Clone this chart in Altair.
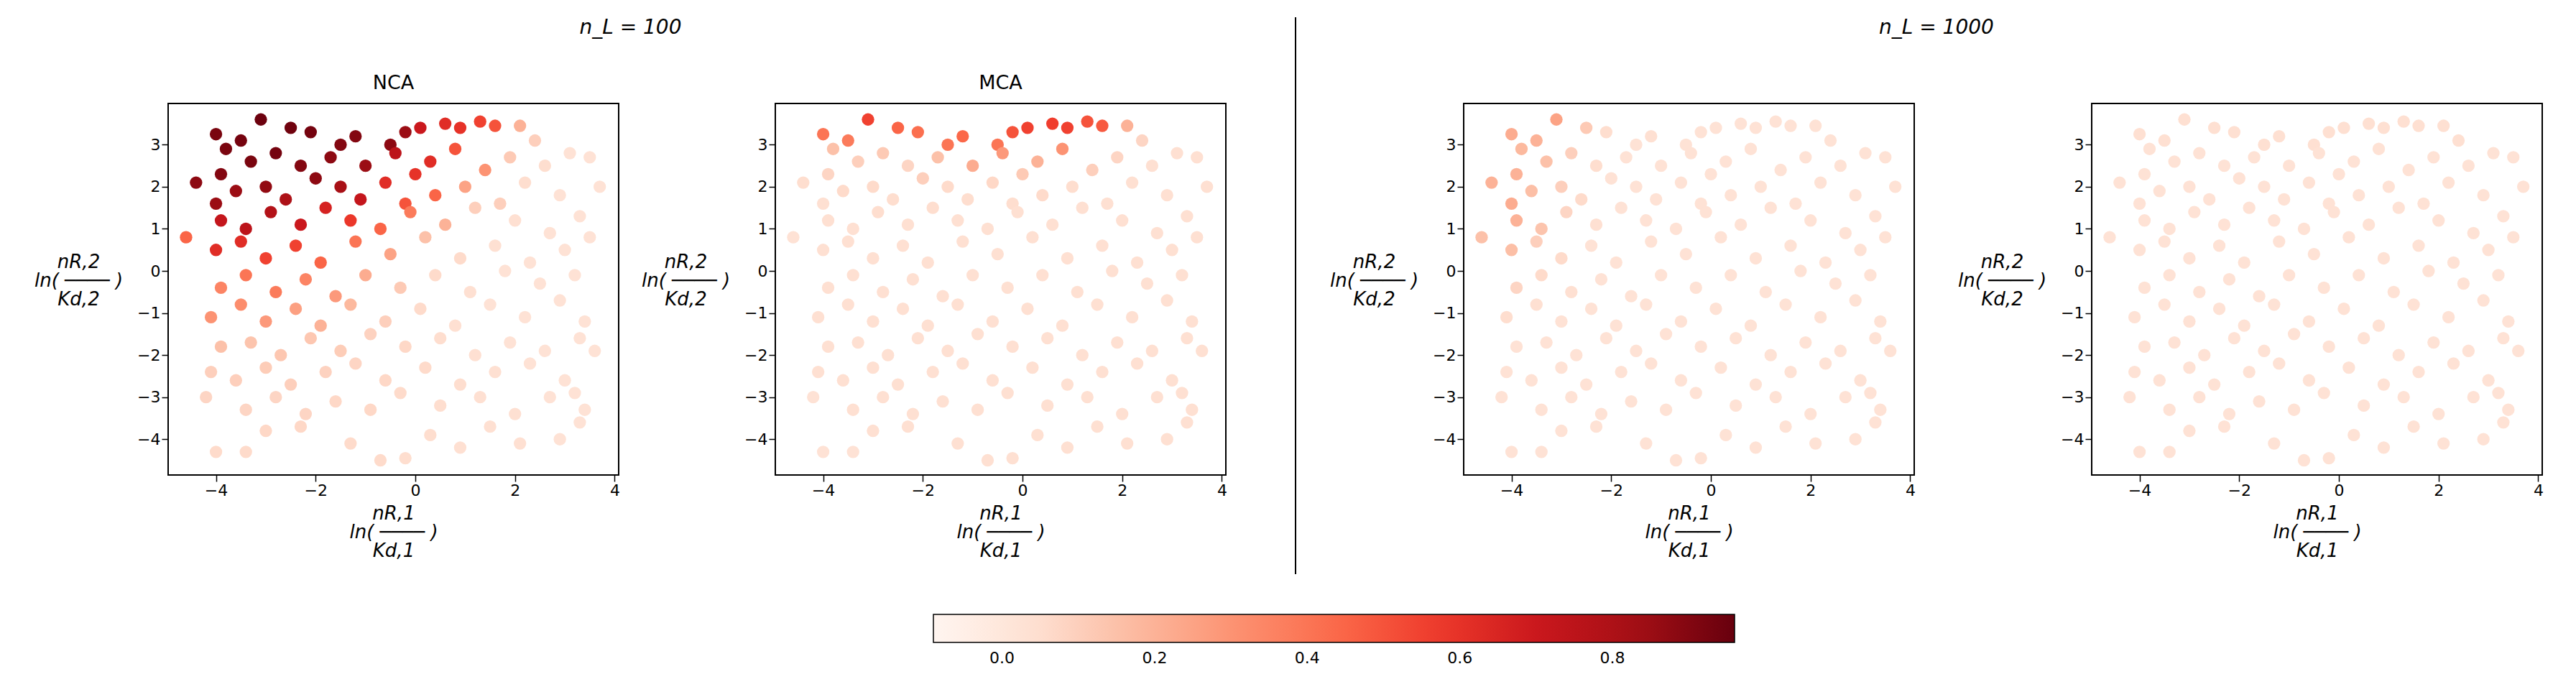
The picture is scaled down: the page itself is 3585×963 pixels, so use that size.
import altair as alt
import pandas as pd

# point positions (shared by all panels) and the value shown in each panel
x = [-4.0, -3.1, -3.5, -2.5, -2.1, -1.2, -0.5, 0.1, 0.6, 0.9, 1.3, 1.6, 2.1, 2.4, -1.5, -0.2,
     -3.8, -3.3, -2.8, -2.3, -1.7, -1.0, -0.4, 0.3, 0.8, 1.4, 1.9, 2.6, 3.1, 3.5, -3.9, -2.0, 0.0,
     -4.4, -3.6, -3.0, -2.6, -1.5, -1.1, -0.6, 0.4, 1.0, 1.7, 2.2, 2.9, 3.7, -4.0, -0.2,
     -3.9, -3.4, -2.9, -2.3, -1.8, -1.3, -0.7, -0.1, 0.6, 1.2, 2.0, 2.7, 3.3, -4.6,
     -4.0, -3.5, -3.0, -2.4, -1.9, -1.2, -0.5, 0.2, 0.9, 1.6, 2.3, 3.0, 3.5,
     -3.9, -3.4, -2.8, -2.2, -1.6, -1.0, -0.3, 0.4, 1.1, 1.8, 2.5, 3.2,
     -4.1, -3.5, -3.0, -2.4, -1.9, -1.3, -0.6, 0.1, 0.8, 1.5, 2.2, 2.9, 3.4,
     -3.9, -3.3, -2.7, -2.1, -1.5, -0.9, -0.2, 0.5, 1.2, 1.9, 2.6, 3.3, 3.6,
     -4.1, -3.6, -3.0, -2.5, -1.8, -1.2, -0.6, 0.2, 0.9, 1.6, 2.3, 3.0,
     -4.2, -3.4, -2.8, -2.2, -1.6, -0.9, -0.3, 0.5, 1.3, 2.0, 2.7, 3.2, 3.4,
     -4.0, -3.4, -3.0, -2.3, -1.3, -0.7, -0.2, 0.3, 0.9, 1.5, 2.1, 2.9, 3.3]
y = [3.25, 3.6, 3.1, 3.4, 3.3, 3.2, 3.0, 3.4, 3.5, 3.4, 3.55, 3.45, 3.45, 3.1, 3.0, 3.3,
     2.9, 2.6, 2.8, 2.5, 2.7, 2.5, 2.8, 2.6, 2.9, 2.4, 2.7, 2.5, 2.8, 2.7, 2.3, 2.2, 2.3,
     2.1, 1.9, 2.0, 1.7, 2.0, 1.7, 2.1, 1.8, 2.0, 1.6, 2.1, 1.8, 2.0, 1.6, 1.6,
     1.2, 1.0, 1.4, 1.1, 1.5, 1.2, 1.0, 1.4, 1.1, 1.5, 1.2, 0.9, 1.3, 0.8,
     0.5, 0.7, 0.3, 0.6, 0.2, 0.7, 0.4, 0.8, 0.3, 0.6, 0.2, 0.5, 0.8,
     -0.4, -0.1, -0.5, -0.2, -0.6, -0.1, -0.4, -0.1, -0.5, 0.0, -0.3, -0.1,
     -1.1, -0.8, -1.2, -0.9, -1.3, -0.8, -1.2, -0.9, -1.3, -0.8, -1.1, -0.7, -1.2,
     -1.8, -1.7, -2.0, -1.6, -1.9, -1.5, -1.8, -1.6, -2.0, -1.7, -1.9, -1.6, -1.9,
     -2.4, -2.6, -2.3, -2.7, -2.4, -2.2, -2.6, -2.3, -2.7, -2.4, -2.2, -2.6,
     -3.0, -3.3, -3.0, -3.4, -3.1, -3.3, -2.9, -3.2, -3.0, -3.4, -3.0, -2.9, -3.3,
     -4.3, -4.3, -3.8, -3.7, -4.1, -4.5, -4.45, -3.9, -4.2, -3.7, -4.1, -4.0, -3.6]
nca_100 = [.92, .95, .93, .94, .93, .90, .88, .70, .62, .60, .55, .50, .20, .10, .90, .85,
           .92, .92, .93, .90, .88, .85, .75, .62, .50, .30, .12, .05, .03, .03, .90, .88, .60,
           .88, .85, .87, .80, .82, .72, .62, .45, .25, .10, .05, .03, .03, .85, .50,
           .72, .75, .78, .70, .66, .58, .45, .38, .20, .10, .04, .03, .03, .45,
           .62, .62, .55, .55, .45, .40, .25, .15, .06, .04, .03, .03, .03,
           .35, .40, .38, .35, .28, .22, .12, .06, .04, .03, .03, .03,
           .30, .32, .28, .26, .20, .18, .10, .06, .04, .03, .03, .03, .03,
           .15, .14, .13, .13, .11, .09, .07, .05, .04, .03, .03, .03, .03,
           .10, .10, .11, .10, .09, .08, .07, .06, .05, .04, .03, .03,
           .08, .08, .08, .08, .07, .07, .06, .05, .04, .04, .03, .03, .03,
           .06, .06, .07, .07, .06, .06, .05, .05, .04, .04, .04, .03, .03]
mca_100 = [.40, .55, .38, .45, .42, .44, .40, .55, .56, .55, .50, .48, .20, .08, .40, .50,
           .15, .10, .12, .08, .15, .22, .28, .20, .30, .10, .08, .04, .04, .04, .08, .10, .12,
           .05, .06, .06, .05, .06, .05, .07, .06, .05, .04, .04, .04, .04, .04, .05,
           .04, .04, .05, .04, .05, .04, .04, .04, .04, .04, .04, .04, .04, .03,
           .04, .04, .04, .04, .04, .04, .04, .04, .04, .04, .04, .04, .04,
           .04, .04, .04, .04, .04, .04, .04, .04, .04, .04, .04, .04,
           .04, .04, .04, .04, .04, .04, .04, .04, .04, .04, .04, .04, .04,
           .04, .04, .04, .04, .04, .04, .04, .04, .04, .04, .04, .04, .04,
           .04, .04, .04, .04, .04, .04, .04, .04, .04, .04, .04, .04,
           .03, .04, .04, .04, .04, .04, .04, .04, .04, .04, .04, .04, .04,
           .03, .03, .04, .04, .04, .04, .04, .04, .04, .04, .04, .04, .04]
nca_1000 = [.22, .25, .20, .12, .05, .04, .03, .03, .03, .03, .03, .03, .03, .03, .03, .03,
            .18, .15, .10, .05, .03, .03, .03, .03, .03, .03, .03, .03, .03, .03, .20, .03, .03,
            .20, .16, .10, .06, .03, .03, .03, .03, .03, .03, .03, .03, .03, .22, .03,
            .20, .14, .08, .04, .03, .03, .03, .03, .03, .03, .03, .03, .03, .15,
            .16, .10, .06, .03, .03, .03, .03, .03, .03, .03, .03, .03, .03,
            .08, .06, .04, .03, .03, .03, .03, .03, .03, .03, .03, .03,
            .05, .04, .03, .03, .03, .03, .03, .03, .03, .03, .03, .03, .03,
            .03, .03, .03, .03, .03, .03, .03, .03, .03, .03, .03, .03, .03,
            .03, .03, .03, .03, .03, .03, .03, .03, .03, .03, .03, .03,
            .03, .03, .03, .03, .03, .03, .03, .03, .03, .03, .03, .03, .03,
            .03, .03, .03, .03, .03, .03, .03, .03, .03, .03, .03, .03, .03]
mca_1000 = [.04] * 16 + [.03] * 17 + [.03] * 15 + [.03] * 14 + [.03] * 13 + [.03] * 12 \
    + [.03] * 13 + [.03] * 13 + [.03] * 12 + [.03] * 13 + [.03] * 13

# matplotlib "Reds"
reds = ['#fff5f0', '#fee0d2', '#fcbba1', '#fc9272', '#fb6a4a',
        '#ef3b2c', '#cb181d', '#a50f15', '#67000d']
cbar_ticks = [0.0, 0.2, 0.4, 0.6, 0.8]

df = pd.DataFrame({'x': x, 'y': y, 'nca_100': nca_100, 'mca_100': mca_100,
                   'nca_1000': nca_1000, 'mca_1000': mca_1000})

color_scale = alt.Scale(domain=[-0.09, 0.96], range=reds, interpolate='rgb')
xscale = alt.Scale(domain=[-4.96, 4.08], nice=False, zero=False)
yscale = alt.Scale(domain=[-4.85, 3.98], nice=False, zero=False)

x_title = ['nR,1', 'ln( ──── )', 'Kd,1']
y_title = ['nR,2', 'ln( ──── )', 'Kd,2']


def panel(col, title, legend=False):
    if legend:
        leg = alt.Legend(
            title=None, orient='none', direction='horizontal',
            legendX=1065, legendY=711, gradientLength=1115,
            gradientThickness=39, values=cbar_ticks,
            format='.1f', labelFontSize=22, labelColor='black',
            gradientStrokeColor='black', gradientStrokeWidth=1.5,
            labelOffset=12, labelFont='DejaVu Sans'
        )
    else:
        leg = None
    return alt.Chart(df).mark_circle(size=300, opacity=1).encode(
        x=alt.X('x:Q', scale=xscale, title=x_title,
                axis=alt.Axis(values=[-4, -2, 0, 2, 4], titlePadding=8)),
        y=alt.Y('y:Q', scale=yscale, title=y_title,
                axis=alt.Axis(values=[-4, -3, -2, -1, 0, 1, 2, 3],
                              titleAngle=0, titleAlign='center',
                              titleBaseline='middle', titleX=-125,
                              titleY=220)),
        color=alt.Color(f'{col}:Q', scale=color_scale, legend=leg)
    ).properties(width=627, height=517,
                 title=alt.TitleParams(title, fontSize=27, fontWeight='normal',
                                       offset=14))


p1 = panel('nca_100', 'NCA', legend=True)
p2 = panel('mca_100', 'MCA')
p3 = panel('nca_1000', ' ')
p4 = panel('mca_1000', ' ')

sup = dict(fontSize=28, fontWeight='normal', fontStyle='italic', offset=48)
left = alt.hconcat(p1, p2, spacing=27).properties(
    title=alt.TitleParams('n_L = 100', **sup))
right = alt.hconcat(p3, p4, spacing=56).properties(
    title=alt.TitleParams('n_L = 1000', **sup))

divider = alt.Chart(pd.DataFrame({'v': [0]})).mark_rule(
    color='black', strokeWidth=2).encode(
    x=alt.value(56), y=alt.value(-120), y2=alt.value(655)
).properties(width=64, height=655, view=alt.ViewConfig(stroke=None))

chart = alt.hconcat(left, divider, right, spacing=38).configure_view(
    stroke='black', strokeWidth=2
).configure_axis(
    grid=False, domain=False, tickColor='black', tickSize=9, tickWidth=1.5,
    labelFontSize=22, labelColor='black', titleFontSize=26,
    titleLineHeight=26, titleFontWeight='normal', titleFontStyle='italic',
    titleColor='black', labelFont='DejaVu Sans', titleFont='DejaVu Sans'
).configure_title(
    font='DejaVu Sans', color='black', anchor='middle'
).properties(
    padding={'left': 38, 'top': 15, 'right': 5, 'bottom': 5}
)

chart.save("out.html", embed_options={"renderer": "svg", "actions": False})
